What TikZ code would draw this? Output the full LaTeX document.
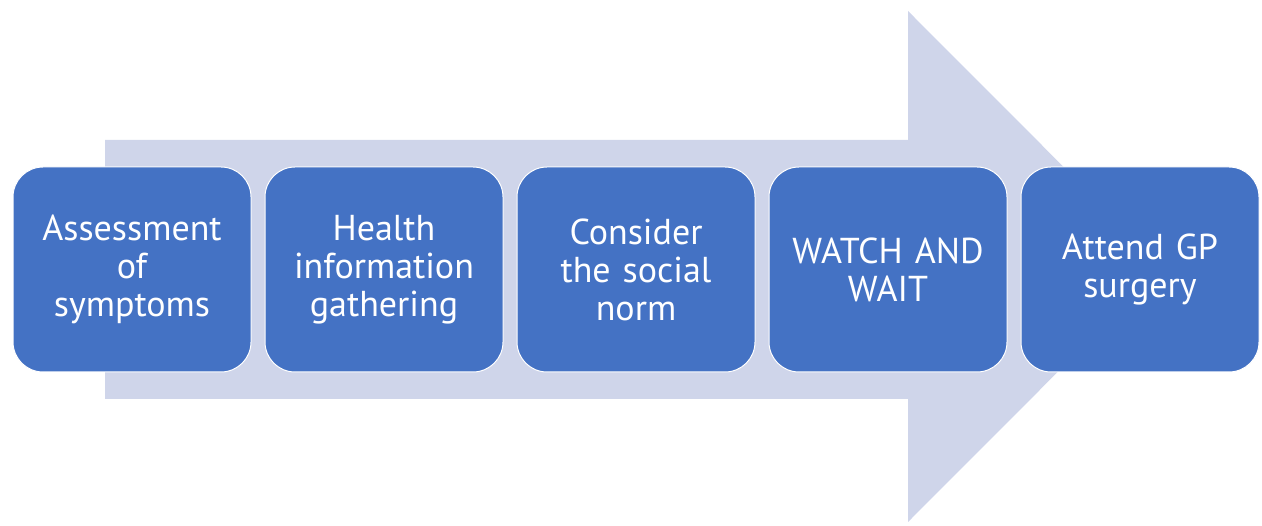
\documentclass[tikz,border=0pt]{standalone}
\usepackage{fontspec}
\setmainfont{PT Sans}
\definecolor{boxblue}{HTML}{4472C4}
\definecolor{arrowfill}{HTML}{CFD5EA}
\begin{document}
\begin{tikzpicture}[x=1pt,y=-1pt,
  stage/.style={draw=white,line width=1pt,fill=boxblue,rounded corners=30pt,
    minimum width=238pt,minimum height=205pt,text width=220pt,align=center,
    text=white,font=\fontsize{36}{38}\selectfont,inner sep=0pt}]
\useasboundingbox (0,0) rectangle (1262,526);
\fill[arrowfill] (105,140) -- (908,140) -- (908,11) -- (1163,266.5) -- (908,522)
  -- (908,399) -- (105,399) -- cycle;
\node[stage] (s1) at (132,269.5) {Assessment\\of\\symptoms};
\node[stage] (s2) at (384,269.5) {Health\\information\\gathering};
\node[stage] (s3) at (636,269.5) {Consider\\the social\\norm};
\node[stage] (s4) at (888,269.5) {WATCH AND\\WAIT};
\node[stage] (s5) at (1140,269.5) {Attend GP\\surgery};
\end{tikzpicture}
\end{document}
